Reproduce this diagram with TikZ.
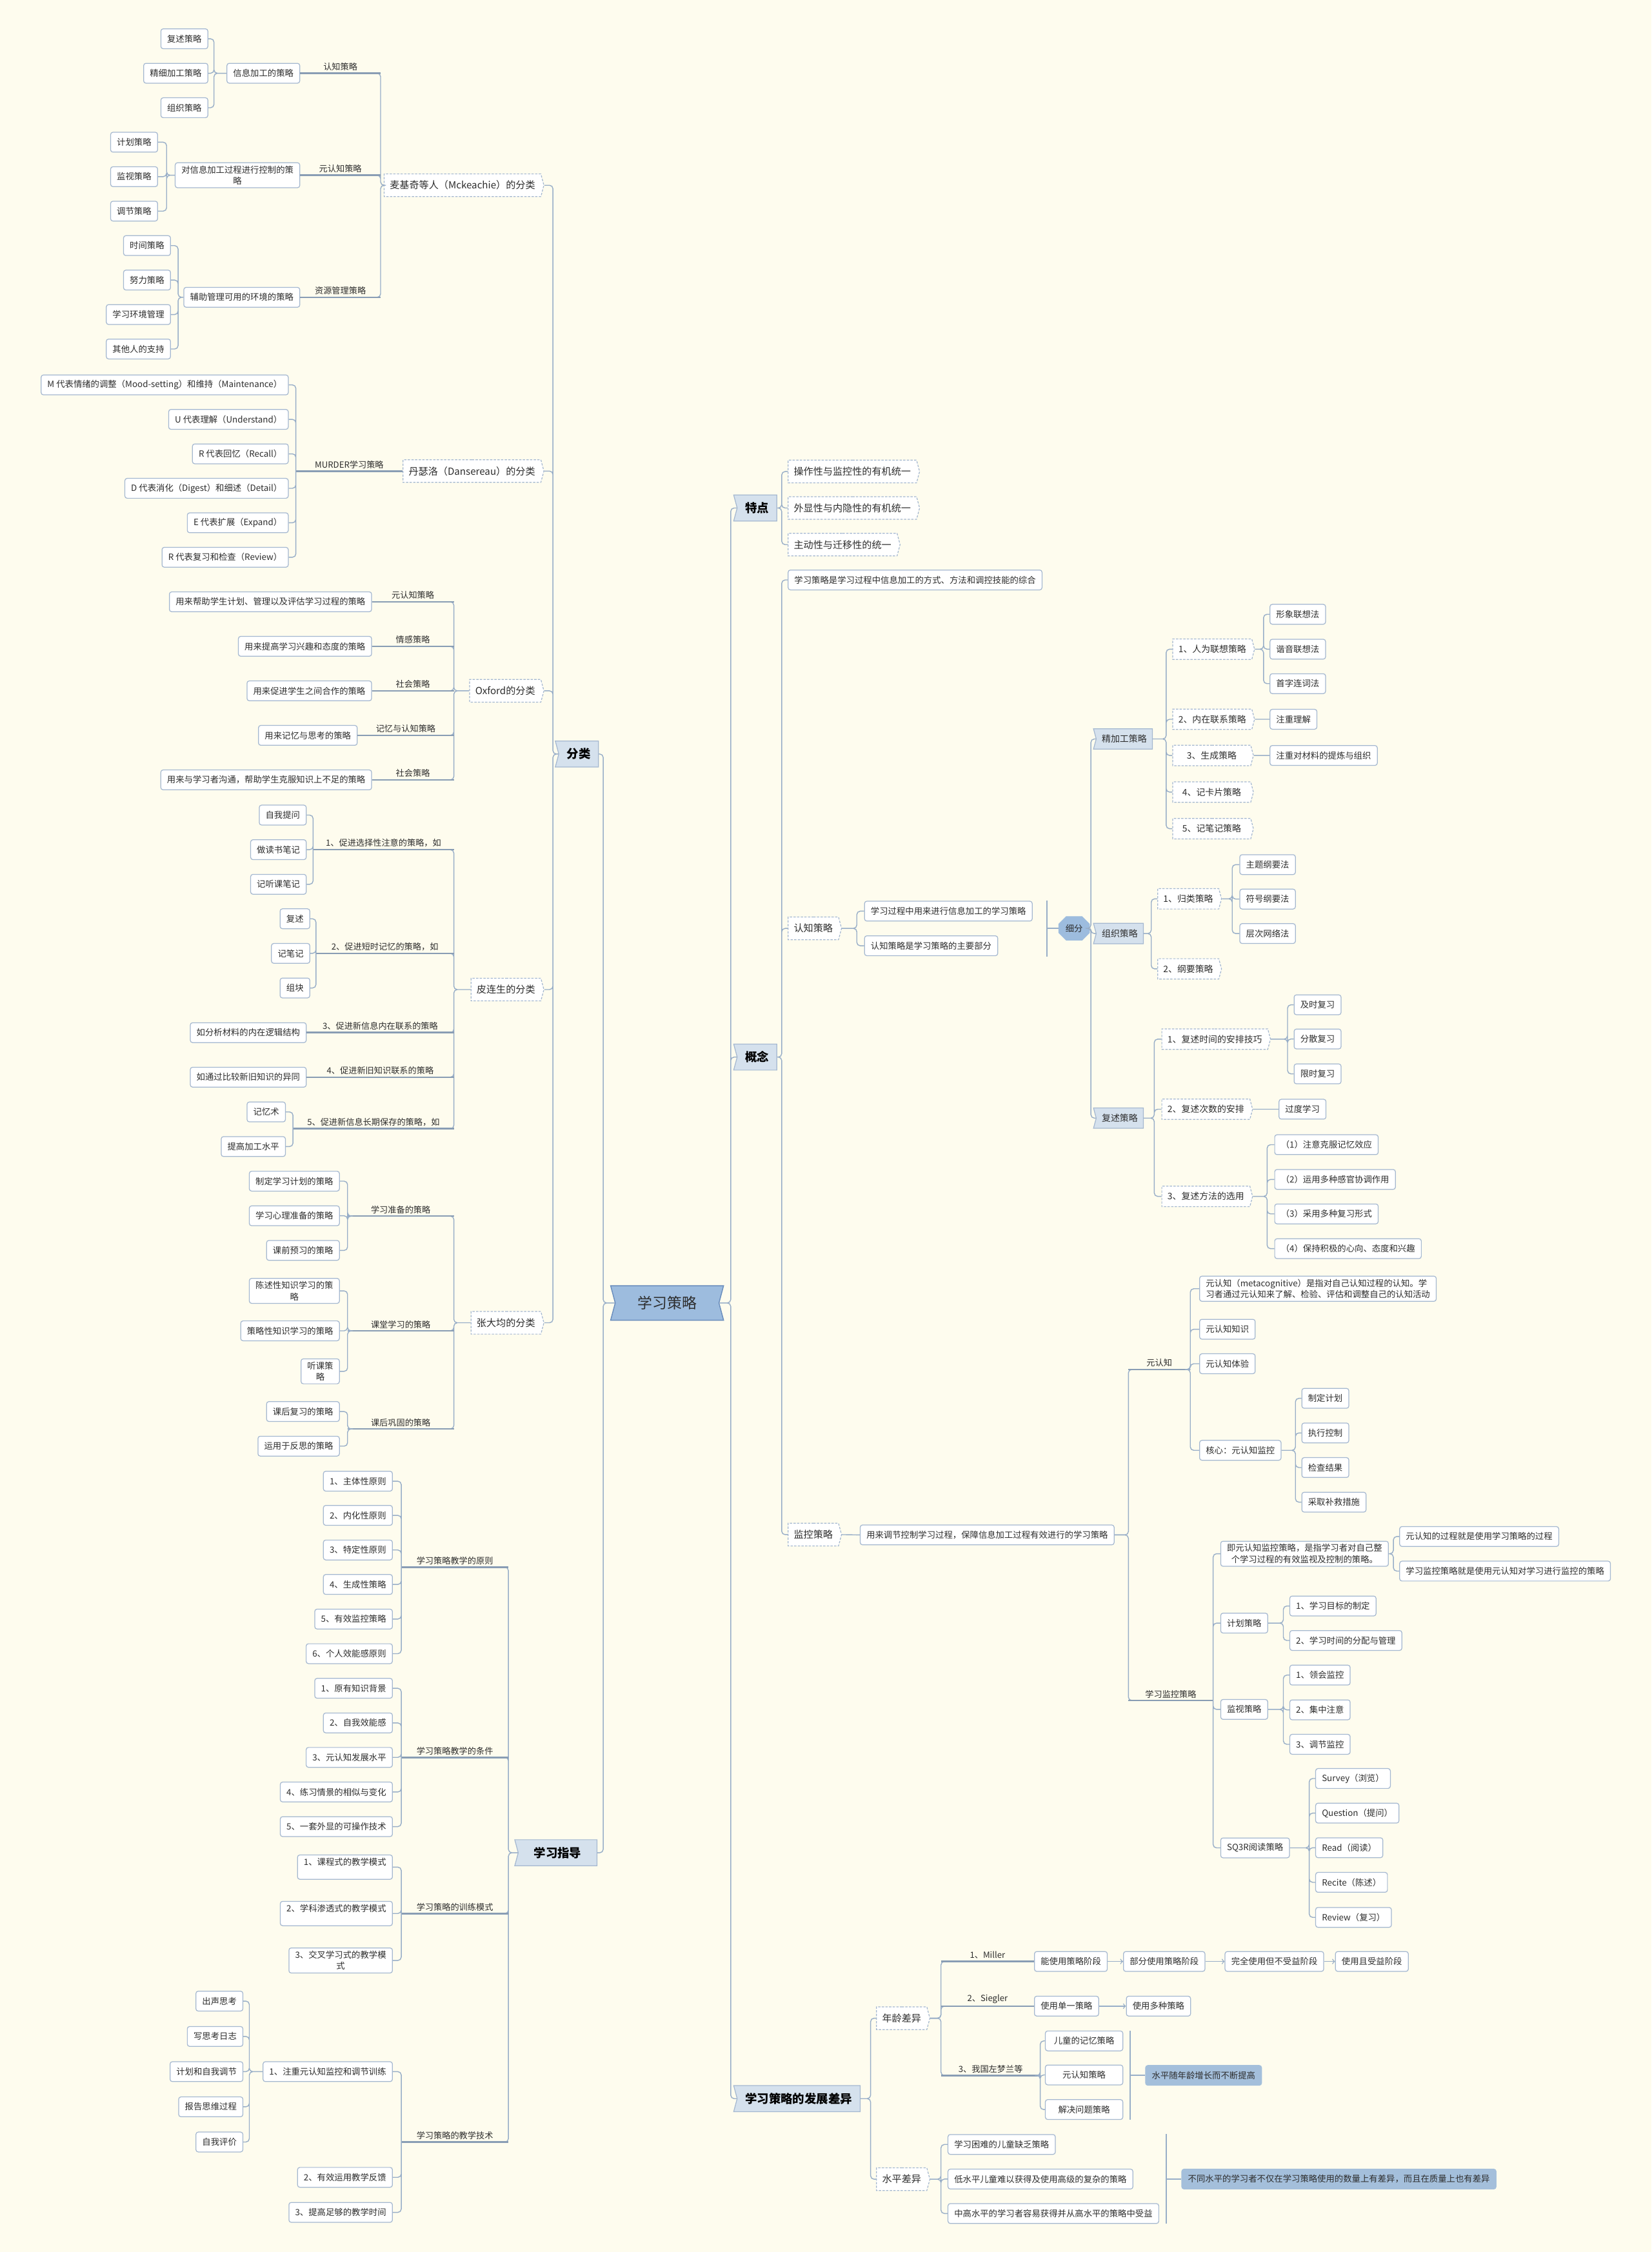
\documentclass[tikz,border=0pt]{standalone}
\usepackage{fontspec}
\setmainfont{Noto Sans CJK SC}
\usetikzlibrary{shapes.symbols,shapes.misc}
\definecolor{bgcol}{RGB}{254,252,238}
\definecolor{linecol}{RGB}{152,174,200}
\definecolor{boxline}{RGB}{165,184,208}
\definecolor{mainfill}{RGB}{213,225,237}
\definecolor{rootfill}{RGB}{157,188,222}
\definecolor{rootline}{RGB}{104,140,188}
\definecolor{hlfill}{RGB}{164,191,219}
\definecolor{txt}{RGB}{45,45,45}

\begin{document}
\begin{tikzpicture}[x=0.0445cm,y=-0.0445cm,
  link/.style={draw=linecol,line width=0.8pt,rounded corners=3pt},
  ulink/.style={draw=linecol!90!black,line width=1.5pt},
  arr/.style={draw=linecol,line width=0.8pt,->},
  leaf/.style={draw=boxline,fill=white,rounded corners=2pt,line width=0.7pt,text=txt,
    font=\fontsize{7.6pt}{10pt}\selectfont,inner xsep=5.5pt,inner ysep=2.5pt,
    minimum height=17.5pt,align=center},
  dsub/.style={shape=signal,signal to=east,signal pointer angle=150,draw=boxline,fill=white,
    dash pattern=on 2pt off 1.2pt,line width=0.7pt,text=txt,
    font=\fontsize{8.6pt}{11pt}\selectfont,inner xsep=5pt,minimum height=20pt},
  dleaf/.style={dsub,font=\fontsize{7.9pt}{10pt}\selectfont,minimum height=18pt},
  mainbox/.style={shape=signal,signal to=nowhere,signal from=west,signal pointer angle=150,
    draw=boxline,fill=mainfill,line width=0.7pt,text=black,
    font=\fontsize{10.5pt}{12pt}\selectfont\bfseries,inner xsep=7pt,minimum height=23pt},
  bluesub/.style={mainbox,font=\fontsize{7.9pt}{10pt}\selectfont,inner xsep=5pt,
    minimum height=18pt,text=txt},
  rootbox/.style={shape=signal,signal to=nowhere,signal from=west and east,
    signal pointer angle=150,draw=rootline,fill=rootfill,line width=0.8pt,text=txt,
    font=\fontsize{13pt}{15pt}\selectfont,minimum width=3.5cm,minimum height=1.07cm},
  xf/.style={chamfered rectangle,chamfered rectangle xsep=3pt,fill=rootfill,draw=rootfill,
    text=txt,font=\fontsize{7.6pt}{10pt}\selectfont,inner xsep=3pt,minimum height=17pt},
  hl/.style={leaf,fill=hlfill,draw=hlfill},
  lab/.style={above,inner sep=1.5pt,text=txt,font=\fontsize{7.5pt}{9pt}\selectfont},
]
\fill[bgcol] (0,0) rectangle (1150,1568);
\useasboundingbox (0,0) rectangle (1150,1568);

% centre
\node[rootbox] (root) at (464.5,907.2) {学习策略};

% main branches
\node[mainbox,anchor=east] (fenlei) at (417,525) {分类};
\node[mainbox,anchor=east,minimum width=2.55cm] (zhidao) at (416,1290) {学习指导};
\node[mainbox,anchor=west] (tedian) at (513,353.7) {特点};
\node[mainbox,anchor=west] (gainian) at (513,736) {概念};
\node[mainbox,anchor=west] (fazhan) at (513,1461.2) {学习策略的发展差异};
\draw[link] (fenlei.east) -- ++(3,0) |- (root.west)
  (zhidao.east) -- ++(4,0) |- (root.west);
\draw[link] (tedian.west) -- ++(-4.2,0) |- (root.east)
  (gainian.west) -- ++(-4.2,0) |- (root.east)
  (fazhan.west) -- ++(-4.2,0) |- (root.east);

% 特点
\node[dsub,anchor=west] (td1) at (548.5,328.3) {操作性与监控性的有机统一};
\node[dsub,anchor=west] (td2) at (548.5,353.7) {外显性与内隐性的有机统一};
\node[dsub,anchor=west] (td3) at (548.5,379.2) {主动性与迁移性的统一};
\draw[link] (td1.west) -- ++(-4.2,0) |- (tedian.east)
  (td2.west) -- ++(-4.2,0) |- (tedian.east)
  (td3.west) -- ++(-4.2,0) |- (tedian.east);

% 概念
\node[leaf,anchor=west] (gn1) at (548.5,403.8) {学习策略是学习过程中信息加工的方式、方法和调控技能的综合};
\node[dsub,anchor=west] (rzcl) at (548.5,646.4) {认知策略};
\node[dsub,anchor=west] (jkcl) at (548.5,1068.5) {监控策略};
\draw[link] (gn1.west) -- ++(-4.2,0) |- (gainian.east)
  (rzcl.west) -- ++(-4.2,0) |- (gainian.east)
  (jkcl.west) -- ++(-4.2,0) |- (gainian.east);

% 认知策略
\node[leaf,anchor=west] (rc1) at (601.7,634.4) {学习过程中用来进行信息加工的学习策略};
\node[leaf,anchor=west] (rc2) at (601.7,658.5) {认知策略是学习策略的主要部分};
\draw[link] (rc1.west) -- ++(-5.1,0) |- (rzcl.east)
  (rc2.west) -- ++(-5.1,0) |- (rzcl.east);
\coordinate (kh1t) at (729,627);
\coordinate (kh1b) at (729,666);
\coordinate (kh1m) at (729,646.4);
\node[xf,anchor=west] (xifen) at (737,646.4) {细分};
\draw[link] (kh1t) -- (kh1b) (kh1m) -- (xifen.west);

% 细分
\node[bluesub,anchor=west] (jjg) at (763,514.5) {精加工策略};
\node[bluesub,anchor=west] (zzcl) at (763,650) {组织策略};
\node[bluesub,anchor=west] (fscl) at (763,778.5) {复述策略};
\draw[link] (jjg.west) -- ++(-3.4,0) |- (xifen.east)
  (zzcl.west) -- ++(-3.4,0) |- (xifen.east)
  (fscl.west) -- ++(-3.4,0) |- (xifen.east);

% 精加工策略
\node[dleaf,anchor=west,minimum width=2.5cm] (j1) at (816.3,452) {1、人为联想策略};
\node[dleaf,anchor=west,minimum width=2.5cm] (j2) at (816.3,500.8) {2、内在联系策略};
\node[dleaf,anchor=west,minimum width=2.5cm] (j3) at (816.3,526) {3、生成策略};
\node[dleaf,anchor=west,minimum width=2.5cm] (j4) at (816.3,551.5) {4、记卡片策略};
\node[dleaf,anchor=west,minimum width=2.5cm] (j5) at (816.3,577) {5、记笔记策略};
\draw[link] (j1.west) -- ++(-4.3,0) |- (jjg.east)
  (j2.west) -- ++(-4.3,0) |- (jjg.east)
  (j3.west) -- ++(-4.3,0) |- (jjg.east)
  (j4.west) -- ++(-4.3,0) |- (jjg.east)
  (j5.west) -- ++(-4.3,0) |- (jjg.east);
\node[leaf,anchor=west] (j11) at (884,427.7) {形象联想法};
\node[leaf,anchor=west] (j12) at (884,452) {谐音联想法};
\node[leaf,anchor=west] (j13) at (884,476) {首字连词法};
\node[leaf,anchor=west] (j21) at (884,500.8) {注重理解};
\node[leaf,anchor=west] (j31) at (884,526) {注重对材料的提炼与组织};
\draw[link] (j11.west) -- ++(-4.2,0) |- (j1.east)
  (j12.west) -- ++(-4.2,0) |- (j1.east)
  (j13.west) -- ++(-4.2,0) |- (j1.east)
  (j21.west) -- (j2.east)
  (j31.west) -- (j3.east);

% 组织策略
\node[dleaf,anchor=west] (z1) at (805.8,625.8) {1、归类策略};
\node[dleaf,anchor=west] (z2) at (805.8,674.6) {2、纲要策略};
\draw[link] (z1.west) -- ++(-4.2,0) |- (zzcl.east)
  (z2.west) -- ++(-4.2,0) |- (zzcl.east);
\node[leaf,anchor=west] (z11) at (863,602) {主题纲要法};
\node[leaf,anchor=west] (z12) at (863,626) {符号纲要法};
\node[leaf,anchor=west] (z13) at (863,650) {层次网络法};
\draw[link] (z11.west) -- ++(-5,0) |- (z1.east)
  (z12.west) -- ++(-5,0) |- (z1.east)
  (z13.west) -- ++(-5,0) |- (z1.east);

% 复述策略
\node[dleaf,anchor=west] (f1) at (808.7,723.5) {1、复述时间的安排技巧};
\node[dleaf,anchor=west] (f2) at (808.7,772.3) {2、复述次数的安排};
\node[dleaf,anchor=west] (f3) at (808.7,833) {3、复述方法的选用};
\draw[link] (f1.west) -- ++(-5,0) |- (fscl.east)
  (f2.west) -- ++(-5,0) |- (fscl.east)
  (f3.west) -- ++(-5,0) |- (fscl.east);
\node[leaf,anchor=west] (f11) at (900.8,699.6) {及时复习};
\node[leaf,anchor=west] (f12) at (900.8,723.4) {分散复习};
\node[leaf,anchor=west] (f13) at (900.8,747.7) {限时复习};
\node[leaf,anchor=west] (f21) at (890.3,772.3) {过度学习};
\node[leaf,anchor=west] (f31) at (887.3,797) {（1）注意克服记忆效应};
\node[leaf,anchor=west] (f32) at (887.3,821.2) {（2）运用多种感官协调作用};
\node[leaf,anchor=west] (f33) at (887.3,845.2) {（3）采用多种复习形式};
\node[leaf,anchor=west] (f34) at (887.3,869.4) {（4）保持积极的心向、态度和兴趣};
\draw[link] (f11.west) -- ++(-4.3,0) |- (f1.east)
  (f12.west) -- ++(-4.3,0) |- (f1.east)
  (f13.west) -- ++(-4.3,0) |- (f1.east)
  (f21.west) -- (f2.east)
  (f31.west) -- ++(-5,0) |- (f3.east)
  (f32.west) -- ++(-5,0) |- (f3.east)
  (f33.west) -- ++(-5,0) |- (f3.east)
  (f34.west) -- ++(-5,0) |- (f3.east);

% 监控策略
\node[leaf,anchor=west] (jk1) at (598.7,1068.7) {用来调节控制学习过程，保障信息加工过程有效进行的学习策略};
\draw[link] (jk1.west) -- (jkcl.east);
\coordinate (yrzc) at (828.8,953.5);
\coordinate (xxjkc) at (844.7,1184);
\draw[link] (yrzc) -- ++(-43.1,0) |- (jk1.east);
\draw[ulink] (yrzc) -- ++(-43.1,0) node[lab,midway] (lyrz) {元认知};
\draw[link] (xxjkc) -- ++(-59,0) |- (jk1.east);
\draw[ulink] (xxjkc) -- ++(-59,0) node[lab,midway] (lxxjk) {学习监控策略};

% 元认知
\node[leaf,anchor=west,align=left] (y1) at (835,897.3) {元认知（metacognitive）是指对自己认知过程的认知。学\\习者通过元认知来了解、检验、评估和调整自己的认知活动};
\node[leaf,anchor=west] (y2) at (835,925.5) {元认知知识};
\node[leaf,anchor=west] (y3) at (835,949.5) {元认知体验};
\node[leaf,anchor=west] (y4) at (835,1009.8) {核心：元认知监控};
\draw[link] (y1.west) -- ++(-6.2,0) |- (yrzc)
  (y2.west) -- ++(-6.2,0) |- (yrzc)
  (y3.west) -- ++(-6.2,0) |- (yrzc)
  (y4.west) -- ++(-6.2,0) |- (yrzc);
\node[leaf,anchor=west] (y41) at (906.2,973.6) {制定计划};
\node[leaf,anchor=west] (y42) at (906.2,997.7) {执行控制};
\node[leaf,anchor=west] (y43) at (906.2,1021.8) {检查结果};
\node[leaf,anchor=west] (y44) at (906.2,1045.9) {采取补救措施};
\draw[link] (y41.west) -- ++(-4.2,0) |- (y4.east)
  (y42.west) -- ++(-4.2,0) |- (y4.east)
  (y43.west) -- ++(-4.2,0) |- (y4.east)
  (y44.west) -- ++(-4.2,0) |- (y4.east);

% 学习监控策略
\node[leaf,anchor=west] (x1) at (849.7,1081.8) {即元认知监控策略，是指学习者对自己整\\个学习过程的有效监视及控制的策略。};
\node[leaf,anchor=west] (x2) at (849.7,1130.1) {计划策略};
\node[leaf,anchor=west] (x3) at (849.7,1190.2) {监视策略};
\node[leaf,anchor=west] (x4) at (849.7,1286.6) {SQ3R阅读策略};
\draw[link] (x1.west) -- ++(-5,0) |- (xxjkc)
  (x2.west) -- ++(-5,0) |- (xxjkc)
  (x3.west) -- ++(-5,0) |- (xxjkc)
  (x4.west) -- ++(-5,0) |- (xxjkc);
\node[leaf,anchor=west] (x11) at (974.3,1069.8) {元认知的过程就是使用学习策略的过程};
\node[leaf,anchor=west] (x12) at (974.3,1093.9) {学习监控策略就是使用元认知对学习进行监控的策略};
\node[leaf,anchor=west] (x21) at (897.8,1118.2) {1、学习目标的制定};
\node[leaf,anchor=west] (x22) at (897.8,1142.2) {2、学习时间的分配与管理};
\node[leaf,anchor=west] (x31) at (897.8,1166.3) {1、领会监控};
\node[leaf,anchor=west] (x32) at (897.8,1190.5) {2、集中注意};
\node[leaf,anchor=west] (x33) at (897.8,1214.5) {3、调节监控};
\node[leaf,anchor=west] (x41) at (915.8,1238.3) {Survey（浏览）};
\node[leaf,anchor=west] (x42) at (915.8,1262.4) {Question（提问）};
\node[leaf,anchor=west] (x43) at (915.8,1286.5) {Read（阅读）};
\node[leaf,anchor=west] (x44) at (915.8,1310.6) {Recite（陈述）};
\node[leaf,anchor=west] (x45) at (915.8,1335) {Review（复习）};
\draw[link] (x11.west) -- ++(-4.1,0) |- (x1.east)
  (x12.west) -- ++(-4.1,0) |- (x1.east)
  (x21.west) -- ++(-4.2,0) |- (x2.east)
  (x22.west) -- ++(-4.2,0) |- (x2.east)
  (x31.west) -- ++(-4.2,0) |- (x3.east)
  (x32.west) -- ++(-4.2,0) |- (x3.east)
  (x33.west) -- ++(-4.2,0) |- (x3.east)
  (x41.west) -- ++(-4.2,0) |- (x4.east)
  (x42.west) -- ++(-4.2,0) |- (x4.east)
  (x43.west) -- ++(-4.2,0) |- (x4.east)
  (x44.west) -- ++(-4.2,0) |- (x4.east)
  (x45.west) -- ++(-4.2,0) |- (x4.east);

% 发展差异
\node[dsub,anchor=west] (nl) at (610,1405.2) {年龄差异};
\node[dsub,anchor=west] (sp) at (610,1517.3) {水平差异};
\draw[link] (nl.west) -- ++(-3.8,0) |- (fazhan.east)
  (sp.west) -- ++(-3.8,0) |- (fazhan.east);
\node[leaf,anchor=west] (mi1) at (720,1365.7) {能使用策略阶段};
\node[leaf,anchor=west] (mi2) at (782,1365.7) {部分使用策略阶段};
\node[leaf,anchor=west] (mi3) at (852.7,1365.7) {完全使用但不受益阶段};
\node[leaf,anchor=west] (mi4) at (929.6,1365.7) {使用且受益阶段};
\draw[link] (mi1.west) -- ++(-64.8,0) |- (nl.east);
\draw[ulink] (mi1.west) -- ++(-64.8,0) node[lab,midway] (lmil) {1、Miller};
\draw[arr] (mi1) -- (mi2);
\draw[arr] (mi2) -- (mi3);
\draw[arr] (mi3) -- (mi4);
\node[leaf,anchor=west] (si1) at (720,1396.8) {使用单一策略};
\node[leaf,anchor=west] (si2) at (784,1396.8) {使用多种策略};
\draw[link] (si1.west) -- ++(-64.8,0) |- (nl.east);
\draw[ulink] (si1.west) -- ++(-64.8,0) node[lab,midway] (lsie) {2、Siegler};
\draw[arr] (si1) -- (si2);
\coordinate (zmc) at (724.3,1445.1);
\draw[link] (zmc) -- ++(-69.1,0) |- (nl.east);
\draw[ulink] (zmc) -- ++(-69.1,0) node[lab,midway] (lzm) {3、我国左梦兰等};
\node[leaf,anchor=west,minimum width=2.4cm] (zm1) at (727.6,1421) {儿童的记忆策略};
\node[leaf,anchor=west,minimum width=2.4cm] (zm2) at (727.6,1444.7) {元认知策略};
\node[leaf,anchor=west,minimum width=2.4cm] (zm3) at (727.6,1468.8) {解决问题策略};
\draw[link] (zm1.west) -- ++(-3.3,0) |- (zmc)
  (zm2.west) -- ++(-3.3,0) |- (zmc)
  (zm3.west) -- ++(-3.3,0) |- (zmc);
\coordinate (kh2t) at (787,1414);
\coordinate (kh2b) at (787,1476);
\coordinate (kh2m) at (787,1445);
\node[hl,anchor=west] (hl1) at (797.4,1445) {水平随年龄增长而不断提高};
\draw[link] (kh2t) -- (kh2b) (kh2m) -- (hl1.west);
\node[leaf,anchor=west] (sp1) at (659.8,1493.1) {学习困难的儿童缺乏策略};
\node[leaf,anchor=west] (sp2) at (659.8,1517.2) {低水平儿童难以获得及使用高级的复杂的策略};
\node[leaf,anchor=west] (sp3) at (659.8,1541.2) {中高水平的学习者容易获得并从高水平的策略中受益};
\draw[link] (sp1.west) -- ++(-4.6,0) |- (sp.east)
  (sp2.west) -- ++(-4.6,0) |- (sp.east)
  (sp3.west) -- ++(-4.6,0) |- (sp.east);
\coordinate (kh3t) at (812,1486);
\coordinate (kh3b) at (812,1548);
\coordinate (kh3m) at (812,1517.2);
\node[hl,anchor=west] (hl2) at (822.6,1517.2) {不同水平的学习者不仅在学习策略使用的数量上有差异，而且在质量上也有差异};
\draw[link] (kh3t) -- (kh3b) (kh3m) -- (hl2.west);

% 分类
\node[dsub,anchor=east] (mck) at (379,129) {麦基奇等人（Mckeachie）的分类};
\node[dsub,anchor=east] (dan) at (379,328) {丹瑟洛（Dansereau）的分类};
\node[dsub,anchor=east] (ox) at (379,481) {Oxford的分类};
\node[dsub,anchor=east] (pls) at (379,689) {皮连生的分类};
\node[dsub,anchor=east] (zdj) at (379,921) {张大均的分类};
\draw[link] (mck.east) -- ++(6,0) |- (fenlei.west)
  (dan.east) -- ++(6,0) |- (fenlei.west)
  (ox.east) -- ++(6,0) |- (fenlei.west)
  (pls.east) -- ++(6,0) |- (fenlei.west)
  (zdj.east) -- ++(6,0) |- (fenlei.west);

% 麦基奇
\node[leaf,anchor=east] (mk1) at (209,51) {信息加工的策略};
\node[leaf,anchor=east] (mk2) at (209,122) {对信息加工过程进行控制的策\\略};
\node[leaf,anchor=east] (mk3) at (209,207) {辅助管理可用的环境的策略};
\draw[link] (mk1.east) -- ++(56,0) |- (mck.west)
  (mk2.east) -- ++(56,0) |- (mck.west)
  (mk3.east) -- ++(56,0) |- (mck.west);
\draw[ulink] (mk1.east) -- ++(56,0) node[lab,midway] (lmk1) {认知策略};
\draw[ulink] (mk2.east) -- ++(56,0) node[lab,midway] (lmk2) {元认知策略};
\draw[ulink] (mk3.east) -- ++(56,0) node[lab,midway] (lmk3) {资源管理策略};
\node[leaf,anchor=east] (mk11) at (145,27) {复述策略};
\node[leaf,anchor=east] (mk12) at (145,51) {精细加工策略};
\node[leaf,anchor=east] (mk13) at (145,75) {组织策略};
\node[leaf,anchor=east] (mk21) at (110,99) {计划策略};
\node[leaf,anchor=east] (mk22) at (110,123) {监视策略};
\node[leaf,anchor=east] (mk23) at (110,147) {调节策略};
\node[leaf,anchor=east] (mk31) at (119,171) {时间策略};
\node[leaf,anchor=east] (mk32) at (119,195) {努力策略};
\node[leaf,anchor=east] (mk33) at (119,219) {学习环境管理};
\node[leaf,anchor=east] (mk34) at (119,243) {其他人的支持};
\draw[link] (mk11.east) -- ++(4,0) |- (mk1.west)
  (mk12.east) -- ++(4,0) |- (mk1.west)
  (mk13.east) -- ++(4,0) |- (mk1.west)
  (mk21.east) -- ++(6,0) |- (mk2.west)
  (mk22.east) -- ++(6,0) |- (mk2.west)
  (mk23.east) -- ++(6,0) |- (mk2.west)
  (mk31.east) -- ++(5,0) |- (mk3.west)
  (mk32.east) -- ++(5,0) |- (mk3.west)
  (mk33.east) -- ++(5,0) |- (mk3.west)
  (mk34.east) -- ++(5,0) |- (mk3.west);

% 丹瑟洛
\coordinate (murder) at (206,328);
\draw[ulink] (murder) -- (dan.west) node[lab,midway] (lmurder) {MURDER学习策略};
\node[leaf,anchor=east] (md1) at (201,268) {M 代表情绪的调整（Mood-setting）和维持（Maintenance）};
\node[leaf,anchor=east] (md2) at (201,292) {U 代表理解（Understand）};
\node[leaf,anchor=east] (md3) at (201,316) {R 代表回忆（Recall）};
\node[leaf,anchor=east] (md4) at (201,340) {D 代表消化（Digest）和细述（Detail）};
\node[leaf,anchor=east] (md5) at (201,364) {E 代表扩展（Expand）};
\node[leaf,anchor=east] (md6) at (201,388) {R 代表复习和检查（Review）};
\draw[link] (md1.east) -- ++(5,0) |- (murder)
  (md2.east) -- ++(5,0) |- (murder)
  (md3.east) -- ++(5,0) |- (murder)
  (md4.east) -- ++(5,0) |- (murder)
  (md5.east) -- ++(5,0) |- (murder)
  (md6.east) -- ++(5,0) |- (murder);

% Oxford
\node[leaf,anchor=east] (ox1) at (259,419) {用来帮助学生计划、管理以及评估学习过程的策略};
\node[leaf,anchor=east] (ox2) at (259,450) {用来提高学习兴趣和态度的策略};
\node[leaf,anchor=east] (ox3) at (259,481) {用来促进学生之间合作的策略};
\node[leaf,anchor=east] (ox4) at (249,512) {用来记忆与思考的策略};
\node[leaf,anchor=east] (ox5) at (259,543) {用来与学习者沟通，帮助学生克服知识上不足的策略};
\draw[link] (ox1.east) -- ++(57,0) |- (ox.west)
  (ox2.east) -- ++(57,0) |- (ox.west)
  (ox3.east) -- ++(57,0) |- (ox.west)
  (ox4.east) -- ++(67,0) |- (ox.west)
  (ox5.east) -- ++(57,0) |- (ox.west);
\draw[ulink] (ox1.east) -- ++(57,0) node[lab,midway] (lox1) {元认知策略};
\draw[ulink] (ox2.east) -- ++(57,0) node[lab,midway] (lox2) {情感策略};
\draw[ulink] (ox3.east) -- ++(57,0) node[lab,midway] (lox3) {社会策略};
\draw[ulink] (ox4.east) -- ++(67,0) node[lab,midway] (lox4) {记忆与认知策略};
\draw[ulink] (ox5.east) -- ++(57,0) node[lab,midway] (lox5) {社会策略};

% 皮连生
\coordinate (pc1) at (218,591.6);
\coordinate (pc2) at (220,663.8);
\coordinate (pc5) at (204,785.9);
\node[leaf,anchor=east] (pl3) at (213.5,719) {如分析材料的内在逻辑结构};
\node[leaf,anchor=east] (pl4) at (213.5,750) {如通过比较新旧知识的异同};
\draw[link] (pc1) -- ++(98,0) |- (pls.west)
  (pc2) -- ++(96,0) |- (pls.west)
  (pl3.east) -- ++(102.5,0) |- (pls.west)
  (pl4.east) -- ++(102.5,0) |- (pls.west)
  (pc5) -- ++(112,0) |- (pls.west);
\draw[ulink] (pc1) -- ++(98,0) node[lab,midway] (lpc1) {1、促进选择性注意的策略，如};
\draw[ulink] (pc2) -- ++(96,0) node[lab,midway] (lpc2) {2、促进短时记忆的策略，如};
\draw[ulink] (pl3.east) -- ++(102.5,0) node[lab,midway] (lpc3) {3、促进新信息内在联系的策略};
\draw[ulink] (pl4.east) -- ++(102.5,0) node[lab,midway] (lpc4) {4、促进新旧知识联系的策略};
\draw[ulink] (pc5) -- ++(112,0) node[lab,midway] (lpc5) {5、促进新信息长期保存的策略，如};
\node[leaf,anchor=east] (pl11) at (213.5,567.5) {自我提问};
\node[leaf,anchor=east] (pl12) at (213.5,591.6) {做读书笔记};
\node[leaf,anchor=east] (pl13) at (213.5,615.7) {记听课笔记};
\node[leaf,anchor=east] (pl21) at (216,639.7) {复述};
\node[leaf,anchor=east] (pl22) at (216,663.8) {记笔记};
\node[leaf,anchor=east] (pl23) at (216,687.9) {组块};
\node[leaf,anchor=east] (pl51) at (199,774.2) {记忆术};
\node[leaf,anchor=east] (pl52) at (199,798.3) {提高加工水平};
\draw[link] (pl11.east) -- ++(4.5,0) |- (pc1)
  (pl12.east) -- ++(4.5,0) |- (pc1)
  (pl13.east) -- ++(4.5,0) |- (pc1)
  (pl21.east) -- ++(4,0) |- (pc2)
  (pl22.east) -- ++(4,0) |- (pc2)
  (pl23.east) -- ++(4,0) |- (pc2)
  (pl51.east) -- ++(5,0) |- (pc5)
  (pl52.east) -- ++(5,0) |- (pc5);

% 张大均
\coordinate (zc1) at (242,846.7);
\coordinate (zc2) at (242,926.6);
\coordinate (zc3) at (242,994.9);
\draw[link] (zc1) -- ++(74,0) |- (zdj.west)
  (zc2) -- ++(74,0) |- (zdj.west)
  (zc3) -- ++(74,0) |- (zdj.west);
\draw[ulink] (zc1) -- ++(74,0) node[lab,midway] (lzc1) {学习准备的策略};
\draw[ulink] (zc2) -- ++(74,0) node[lab,midway] (lzc2) {课堂学习的策略};
\draw[ulink] (zc3) -- ++(74,0) node[lab,midway] (lzc3) {课后巩固的策略};
\node[leaf,anchor=east] (zd11) at (236.6,822.4) {制定学习计划的策略};
\node[leaf,anchor=east] (zd12) at (236.6,846.5) {学习心理准备的策略};
\node[leaf,anchor=east] (zd13) at (236.6,870.6) {课前预习的策略};
\node[leaf,anchor=east] (zd21) at (236.6,898.8) {陈述性知识学习的策\\略};
\node[leaf,anchor=east] (zd22) at (236.6,926.6) {策略性知识学习的策略};
\node[leaf,anchor=east] (zd23) at (236.6,954.8) {听课策\\略};
\node[leaf,anchor=east] (zd31) at (236.6,982.8) {课后复习的策略};
\node[leaf,anchor=east] (zd32) at (236.6,1006.9) {运用于反思的策略};
\draw[link] (zd11.east) -- ++(5.4,0) |- (zc1)
  (zd12.east) -- ++(5.4,0) |- (zc1)
  (zd13.east) -- ++(5.4,0) |- (zc1)
  (zd21.east) -- ++(5.4,0) |- (zc2)
  (zd22.east) -- ++(5.4,0) |- (zc2)
  (zd23.east) -- ++(5.4,0) |- (zc2)
  (zd31.east) -- ++(5.4,0) |- (zc3)
  (zd32.east) -- ++(5.4,0) |- (zc3);

% 学习指导
\coordinate (gc1) at (279.4,1091.2);
\coordinate (gc2) at (279.4,1223.6);
\coordinate (gc3) at (279.4,1332.3);
\coordinate (gc4) at (279.4,1491.4);
\draw[link] (gc1) -- ++(74.6,0) |- (zhidao.west)
  (gc2) -- ++(74.6,0) |- (zhidao.west)
  (gc3) -- ++(74.6,0) |- (zhidao.west)
  (gc4) -- ++(74.6,0) |- (zhidao.west);
\draw[ulink] (gc1) -- ++(74.6,0) node[lab,midway] (lgc1) {学习策略教学的原则};
\draw[ulink] (gc2) -- ++(74.6,0) node[lab,midway] (lgc2) {学习策略教学的条件};
\draw[ulink] (gc3) -- ++(74.6,0) node[lab,midway] (lgc3) {学习策略的训练模式};
\draw[ulink] (gc4) -- ++(74.6,0) node[lab,midway] (lgc4) {学习策略的教学技术};
\node[leaf,anchor=east] (gd11) at (273.5,1031.3) {1、主体性原则};
\node[leaf,anchor=east] (gd12) at (273.5,1055.1) {2、内化性原则};
\node[leaf,anchor=east] (gd13) at (273.5,1079.2) {3、特定性原则};
\node[leaf,anchor=east] (gd14) at (273.5,1103.2) {4、生成性策略};
\node[leaf,anchor=east] (gd15) at (273.5,1127.3) {5、有效监控策略};
\node[leaf,anchor=east] (gd16) at (273.5,1151.4) {6、个人效能感原则};
\node[leaf,anchor=east] (gd21) at (273.5,1175.5) {1、原有知识背景};
\node[leaf,anchor=east] (gd22) at (273.5,1199.6) {2、自我效能感};
\node[leaf,anchor=east] (gd23) at (273.5,1223.6) {3、元认知发展水平};
\node[leaf,anchor=east] (gd24) at (273.5,1247.7) {4、练习情景的相似与变化};
\node[leaf,anchor=east] (gd25) at (273.5,1271.8) {5、一套外显的可操作技术};
\node[leaf,anchor=east] (gd31) at (273.5,1300) {1、课程式的教学模式\\ \mbox{}};
\node[leaf,anchor=east] (gd32) at (273.5,1332.3) {2、学科渗透式的教学模式\\ \mbox{}};
\node[leaf,anchor=east] (gd33) at (273.5,1365) {3、交叉学习式的教学模\\式};
\node[leaf,anchor=east] (gd41) at (273.5,1442.4) {1、注重元认知监控和调节训练};
\node[leaf,anchor=east] (gd42) at (273.5,1516) {2、有效运用教学反馈};
\node[leaf,anchor=east] (gd43) at (273.5,1540.4) {3、提高足够的教学时间};
\draw[link] (gd11.east) -- ++(5.9,0) |- (gc1)
  (gd12.east) -- ++(5.9,0) |- (gc1)
  (gd13.east) -- ++(5.9,0) |- (gc1)
  (gd14.east) -- ++(5.9,0) |- (gc1)
  (gd15.east) -- ++(5.9,0) |- (gc1)
  (gd16.east) -- ++(5.9,0) |- (gc1)
  (gd21.east) -- ++(5.9,0) |- (gc2)
  (gd22.east) -- ++(5.9,0) |- (gc2)
  (gd23.east) -- ++(5.9,0) |- (gc2)
  (gd24.east) -- ++(5.9,0) |- (gc2)
  (gd25.east) -- ++(5.9,0) |- (gc2)
  (gd31.east) -- ++(5.9,0) |- (gc3)
  (gd32.east) -- ++(5.9,0) |- (gc3)
  (gd33.east) -- ++(5.9,0) |- (gc3)
  (gd41.east) -- ++(5.9,0) |- (gc4)
  (gd42.east) -- ++(5.9,0) |- (gc4)
  (gd43.east) -- ++(5.9,0) |- (gc4);
\node[leaf,anchor=east] (gt1) at (169.4,1393.3) {出声思考};
\node[leaf,anchor=east] (gt2) at (169.4,1417.9) {写思考日志};
\node[leaf,anchor=east] (gt3) at (169.4,1442.4) {计划和自我调节};
\node[leaf,anchor=east] (gt4) at (169.4,1466.9) {报告思维过程};
\node[leaf,anchor=east] (gt5) at (169.4,1491.4) {自我评价};
\draw[link] (gt1.east) -- ++(4.2,0) |- (gd41.west)
  (gt2.east) -- ++(4.2,0) |- (gd41.west)
  (gt3.east) -- ++(4.2,0) |- (gd41.west)
  (gt4.east) -- ++(4.2,0) |- (gd41.west)
  (gt5.east) -- ++(4.2,0) |- (gd41.west);
\end{tikzpicture}
\end{document}
